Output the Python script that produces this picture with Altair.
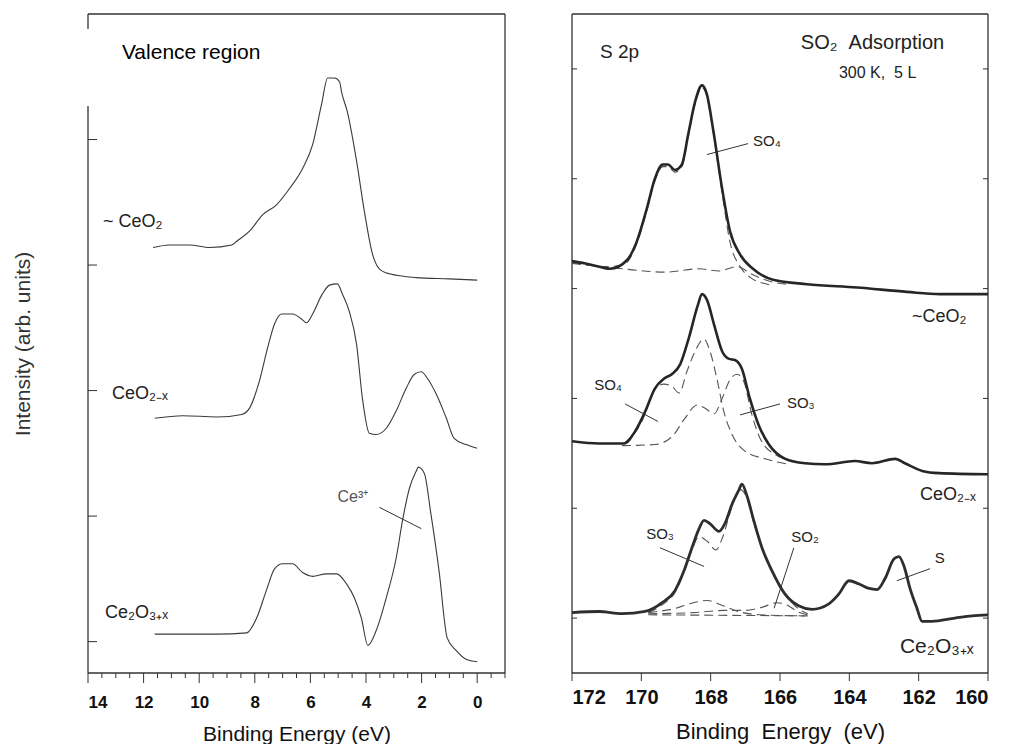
import altair as alt
import pandas as pd

FONT = "Liberation Sans"
LINE_L = "#3a3a3a"
LINE_R = "#262626"
DASH_C = "#555555"

# ---------------- Left panel: valence region (binding energy eV, intensity arb.) ----------------
ceo2_E = [11.66, 11.06, 10.34, 9.62, 8.83, 8.65, 8.19, 7.72, 7.22, 6.75, 6.28, 5.92, 5.60, 5.38,
          5.13, 4.95, 4.88, 4.67, 4.34, 4.06, 3.77, 3.52, 3.16, 2.19, 1.0, 0.0]
ceo2_I = [3.14, 3.16, 3.16, 3.14, 3.16, 3.19, 3.27, 3.40, 3.48, 3.61, 3.77, 3.96, 4.28, 4.49,
          4.49, 4.46, 4.38, 4.22, 3.83, 3.43, 3.09, 2.97, 2.93, 2.90, 2.89, 2.88]

ceo2x_E = [11.6, 10.59, 9.37, 8.47, 8.19, 7.83, 7.54, 7.29, 7.04, 6.64, 6.32, 6.14, 5.92, 5.57,
           5.31, 5.03, 4.85, 4.60, 4.34, 4.13, 3.88, 3.63, 3.27, 2.91, 2.55, 2.26, 2.01, 1.80,
           1.47, 1.11, 0.83, 0.40, 0.0]
ceo2x_I = [1.78, 1.80, 1.79, 1.81, 1.86, 2.08, 2.34, 2.53, 2.61, 2.61, 2.57, 2.54, 2.61, 2.77,
           2.84, 2.85, 2.77, 2.63, 2.37, 1.94, 1.66, 1.65, 1.70, 1.84, 2.02, 2.13, 2.15, 2.10,
           1.97, 1.78, 1.62, 1.57, 1.54]

ce2o3_E = [11.6, 10.59, 9.37, 8.29, 7.93, 7.58, 7.29, 7.0, 6.64, 6.28, 5.92, 5.42, 5.06, 4.70,
           4.42, 4.17, 3.93, 3.63, 3.27, 2.91, 2.69, 2.44, 2.19, 2.12, 1.90, 1.68, 1.37, 1.08,
           0.76, 0.40, 0.0]
ce2o3_I = [0.06, 0.06, 0.06, 0.07, 0.19, 0.41, 0.58, 0.62, 0.62, 0.55, 0.52, 0.54, 0.54, 0.46,
           0.35, 0.19, -0.03, 0.09, 0.35, 0.67, 0.96, 1.22, 1.36, 1.39, 1.34, 1.04, 0.56, 0.03,
           -0.07, -0.14, -0.16]

left_major = [14, 12, 10, 8, 6, 4, 2, 0]
left_minor = [13.5, 13, 12.5, 11.5, 11, 10.5, 9.5, 9, 8.5, 7.5, 7, 6.5, 5.5, 5, 4.5, 3.5, 3,
              2.5, 1.5, 1, 0.5, -0.5, -1]
left_yticks = [0, 1, 2, 3, 4]

# ---------------- Right panel: S 2p ----------------
top_E = [172, 171.48, 170.90, 170.41, 170.13, 169.84, 169.61, 169.38, 169.23, 169.03, 168.83,
         168.65, 168.45, 168.25, 168.11, 167.93, 167.67, 167.44, 167.15, 166.78, 166.20, 165.22,
         163.78, 162.34, 161.39, 160.0]
top_I = [3.25, 3.22, 3.18, 3.26, 3.43, 3.73, 4.00, 4.13, 4.13, 4.08, 4.13, 4.40, 4.70, 4.85,
         4.77, 4.45, 3.91, 3.52, 3.31, 3.18, 3.08, 3.04, 3.01, 2.97, 2.95, 2.95]
top_fit_E = [172, 171.0, 170.5, 170.13, 169.84, 169.61, 169.38, 169.23, 169.03, 168.83, 168.65,
             168.45, 168.25, 168.11, 167.93, 167.67, 167.44, 167.15, 166.85, 166.5, 166.2]
top_fit_I = [3.24, 3.20, 3.22, 3.41, 3.71, 3.98, 4.11, 4.11, 4.06, 4.11, 4.38, 4.68, 4.83, 4.75,
             4.43, 3.87, 3.42, 3.20, 3.10, 3.05, 3.03]
top_base_E = [172, 170.56, 169.32, 168.34, 167.76, 167.24, 166.81, 166.23, 165.8]
top_base_I = [3.23, 3.18, 3.15, 3.18, 3.16, 3.20, 3.13, 3.06, 3.04]

mid_E = [172, 171.22, 170.50, 170.18, 169.89, 169.61, 169.35, 169.12, 168.88, 168.63, 168.37,
         168.25, 168.11, 167.90, 167.67, 167.47, 167.30, 167.10, 166.87, 166.62, 166.32, 165.85,
         165.28, 164.70, 163.84, 163.35, 162.68, 162.40, 161.90, 161.41, 160.0]
mid_I = [1.61, 1.59, 1.59, 1.70, 1.88, 2.09, 2.18, 2.22, 2.31, 2.55, 2.85, 2.95, 2.90, 2.67,
         2.43, 2.36, 2.35, 2.27, 2.00, 1.76, 1.58, 1.45, 1.41, 1.40, 1.43, 1.41, 1.45, 1.41,
         1.34, 1.32, 1.31]
mid_so4_E = [170.5, 170.0, 169.61, 169.35, 169.12, 168.91, 168.68, 168.45, 168.20, 168.02,
             167.82, 167.62, 167.38, 167.01, 166.43, 165.74]
mid_so4_I = [1.59, 1.78, 2.08, 2.13, 2.11, 2.05, 2.25, 2.43, 2.54, 2.43, 2.18, 1.88, 1.67,
             1.52, 1.45, 1.40]
mid_so3_E = [170.56, 169.61, 169.12, 168.74, 168.39, 168.16, 167.90, 167.67, 167.44, 167.24,
             167.04, 166.81, 166.58, 166.14, 165.45]
mid_so3_I = [1.57, 1.58, 1.65, 1.82, 1.94, 1.91, 1.86, 2.00, 2.17, 2.22, 2.15, 1.85, 1.64,
             1.49, 1.42]

bot_E = [172, 171.22, 170.56, 169.89, 169.40, 169.03, 168.77, 168.54, 168.34, 168.19, 168.02,
         167.76, 167.59, 167.38, 167.18, 167.10, 166.95, 166.75, 166.52, 166.23, 165.86, 165.45,
         165.08, 164.59, 164.30, 164.01, 163.72, 163.43, 163.20, 162.97, 162.71, 162.57, 162.42,
         162.25, 162.05, 161.90, 161.62, 160.95, 160.46, 160.0]
bot_I = [0.05, 0.06, 0.04, 0.06, 0.14, 0.25, 0.43, 0.64, 0.81, 0.89, 0.86, 0.79, 0.86, 1.04,
         1.17, 1.22, 1.11, 0.88, 0.64, 0.43, 0.22, 0.11, 0.08, 0.13, 0.22, 0.34, 0.31, 0.27,
         0.26, 0.36, 0.54, 0.56, 0.47, 0.27, 0.09, -0.03, -0.03, 0.0, 0.02, 0.03]
bot_so3_E = [169.8, 169.4, 169.0, 168.77, 168.54, 168.34, 168.1, 167.85, 167.65, 167.4, 167.15,
             166.95, 166.75, 166.5, 166.23, 165.86, 165.45, 165.2]
bot_so3_I = [0.05, 0.12, 0.25, 0.42, 0.62, 0.74, 0.70, 0.62, 0.74, 1.00, 1.17, 1.09, 0.86,
             0.62, 0.42, 0.22, 0.08, 0.04]
bot_b1_E = [169.8, 169.0, 168.5, 168.1, 167.7, 167.2, 166.6, 165.3]
bot_b1_I = [0.05, 0.09, 0.14, 0.16, 0.12, 0.06, 0.03, 0.02]
bot_b2_E = [169.8, 168.5, 167.6, 167.0, 166.5, 166.1, 165.8, 165.5, 165.2]
bot_b2_I = [0.04, 0.05, 0.07, 0.07, 0.10, 0.14, 0.12, 0.06, 0.03]
bot_base_E = [169.8, 165.2]
bot_base_I = [0.03, 0.02]

right_major = [172, 170, 168, 166, 164, 162, 160]
right_yticks = [0, 1, 2, 3, 4, 5]

# ---------------- helpers ----------------
L_W, L_H = 417, 659
R_W, R_H = 416, 659
xs_L = alt.Scale(domain=[14, -1], nice=False, zero=False)
ys_L = alt.Scale(domain=[-0.25, 5.0], nice=False, zero=False)
xs_R = alt.Scale(domain=[172, 160], nice=False, zero=False)
ys_R = alt.Scale(domain=[-0.5, 5.5], nice=False, zero=False)

ax_L = alt.Axis(values=left_major, format="d", ticks=False, tickSize=0, domain=False, grid=False,
                labelFont=FONT, labelFontSize=17, labelFontWeight="bold", labelColor="#111",
                labelPadding=21, title="Binding Energy (eV)", titleFont=FONT, titleFontSize=21,
                titleFontWeight="normal", titleColor="#111", titlePadding=13)
ay_L = alt.Axis(labels=False, ticks=False, tickSize=0, domain=False, grid=False,
                title="Intensity (arb. units)", titleFont=FONT, titleFontSize=21,
                titleFontWeight="normal", titleColor="#333", titlePadding=55)
ax_R = alt.Axis(values=right_major, format="d", ticks=False, tickSize=0, domain=False, grid=False,
                labelFont=FONT, labelFontSize=20, labelFontWeight="bold", labelColor="#111",
                labelPadding=14, title="Binding\u00a0\u00a0Energy\u00a0\u00a0(eV)", titleFont=FONT,
                titleFontSize=22, titleFontWeight="normal", titleColor="#111", titlePadding=14)


def enc(side):
    if side == "L":
        return dict(x=alt.X("E:Q", scale=xs_L, axis=ax_L), y=alt.Y("I:Q", scale=ys_L, axis=ay_L))
    return dict(x=alt.X("E:Q", scale=xs_R, axis=ax_R), y=alt.Y("I:Q", scale=ys_R, axis=None))


def curve(side, E, I, color, width, dash=None):
    df = pd.DataFrame({"E": E, "I": I})
    kw = dict(color=color, strokeWidth=width, clip=True, strokeJoin="round",
              interpolate="monotone")
    if dash:
        kw["strokeDash"] = dash
    return alt.Chart(df).mark_line(**kw).encode(**enc(side))


def label(side, E, I, text, size, color="#222", align="left"):
    df = pd.DataFrame({"E": [E], "I": [I], "t": [text]})
    return alt.Chart(df).mark_text(align=align, baseline="middle", font=FONT, fontSize=size,
                                   color=color).encode(text="t:N", **enc(side))


def pointer(side, E1, I1, E2, I2, color="#333"):
    df = pd.DataFrame({"E": [E1], "I": [I1], "E2": [E2], "I2": [I2]})
    e = enc(side)
    return alt.Chart(df).mark_rule(color=color, strokeWidth=1).encode(
        x=e["x"], y=e["y"], x2="E2:Q", y2="I2:Q")


def yticks(side, vals, x0, x1):
    df = pd.DataFrame({"I": vals})
    return alt.Chart(df).mark_rule(color="#333", strokeWidth=1).encode(
        y=enc(side)["y"], x=alt.value(x0), x2=alt.value(x1))


def xticks(side, vals, h, length):
    df = pd.DataFrame({"E": vals})
    return alt.Chart(df).mark_rule(color="#333", strokeWidth=1, clip=False).encode(
        x=enc(side)["x"], y=alt.value(h), y2=alt.value(h + length))


def frame_segments(segs):
    # segs: list of (x0, y0, x1, y1) in panel pixels (frame styling)
    df = pd.DataFrame({"k": [0]})
    layers = []
    for (a, b, c, d) in segs:
        layers.append(alt.Chart(df).mark_rule(color="#333", strokeWidth=1.3).encode(
            x=alt.value(a), y=alt.value(b), x2=alt.value(c), y2=alt.value(d)))
    return layers


# ---------------- left chart ----------------
left_frame = frame_segments([(0, 0, L_W, 0), (0, L_H, L_W, L_H), (L_W, 0, L_W, L_H),
                             (0, 0, 0, 15), (0, 92, 0, L_H)])

left = alt.layer(
    *left_frame,
    yticks("L", left_yticks, 0, 9),
    xticks("L", left_major, L_H, 10),
    xticks("L", left_minor, L_H, 5),
    curve("L", ceo2_E, ceo2_I, LINE_L, 1.1),
    curve("L", ceo2x_E, ceo2x_I, LINE_L, 1.1),
    curve("L", ce2o3_E, ce2o3_I, LINE_L, 1.1),
    pointer("L", 3.52, 1.07, 2.01, 0.90),
    label("L", 12.78, 4.69, "Valence region", 21, "#000"),
    label("L", 13.46, 3.34, "~ CeO\u2082", 18),
    label("L", 13.14, 1.97, "CeO\u2082\u208b\u2093", 18),
    label("L", 13.39, 0.23, "Ce\u2082O\u2083\u208a\u2093", 18),
    label("L", 4.47, 1.15, "Ce\u00b3\u207a", 16, "#555", "center"),
).properties(width=L_W, height=L_H)

# ---------------- right chart ----------------
right_frame = frame_segments([(0, 0, R_W, 0), (0, R_H, R_W, R_H), (R_W, 0, R_W, R_H),
                              (0, 0, 0, R_H)])

right = alt.layer(
    *right_frame,
    yticks("R", right_yticks, 0, 5),
    yticks("R", right_yticks, R_W - 5, R_W),
    xticks("R", right_major, R_H, 8),
    curve("R", top_base_E, top_base_I, DASH_C, 1.1, [9, 5]),
    curve("R", top_fit_E, top_fit_I, DASH_C, 1.1, [9, 5]),
    curve("R", top_E, top_I, LINE_R, 2.6),
    curve("R", mid_so4_E, mid_so4_I, DASH_C, 1.1, [9, 5]),
    curve("R", mid_so3_E, mid_so3_I, DASH_C, 1.1, [9, 5]),
    curve("R", mid_E, mid_I, LINE_R, 2.6),
    curve("R", bot_base_E, bot_base_I, DASH_C, 1.1, [9, 5]),
    curve("R", bot_b1_E, bot_b1_I, DASH_C, 1.1, [9, 5]),
    curve("R", bot_b2_E, bot_b2_I, DASH_C, 1.1, [9, 5]),
    curve("R", bot_so3_E, bot_so3_I, DASH_C, 1.1, [9, 5]),
    curve("R", bot_E, bot_I, "#2e2e2e", 2.8),
    pointer("R", 168.11, 4.22, 166.92, 4.32),
    pointer("R", 170.47, 1.95, 169.52, 1.79),
    pointer("R", 167.15, 1.85, 166.0, 1.95),
    pointer("R", 169.46, 0.64, 168.19, 0.47),
    pointer("R", 165.60, 0.64, 166.17, 0.09),
    pointer("R", 162.63, 0.34, 161.67, 0.45),
    label("R", 171.19, 5.15, "S 2p", 19),
    label("R", 165.40, 5.24, "SO\u2082\u00a0\u00a0Adsorption", 20),
    label("R", 164.30, 4.96, "300 K,\u00a0\u00a05 L", 16),
    label("R", 166.78, 4.34, "SO\u2084", 15),
    label("R", 162.19, 2.74, "~CeO\u2082", 18),
    label("R", 161.96, 1.12, "CeO\u2082\u208b\u2093", 18),
    label("R", 162.54, -0.26, "Ce\u2082O\u2083\u208a\u2093", 21),
    label("R", 170.96, 2.12, "SO\u2084", 15, align="center"),
    label("R", 165.80, 1.96, "SO\u2083", 15),
    label("R", 169.46, 0.77, "SO\u2083", 15, align="center"),
    label("R", 165.28, 0.74, "SO\u2082", 15, align="center"),
    label("R", 161.39, 0.55, "S", 15, align="center"),
).properties(width=R_W, height=R_H)

chart = alt.hconcat(left, right, spacing=65).properties(
    padding={"left": 12, "top": 13, "right": 0, "bottom": 0},
    background="white",
).configure_view(stroke="transparent", strokeWidth=0)

chart.save("out.html", embed_options={"renderer": "svg", "actions": False})
